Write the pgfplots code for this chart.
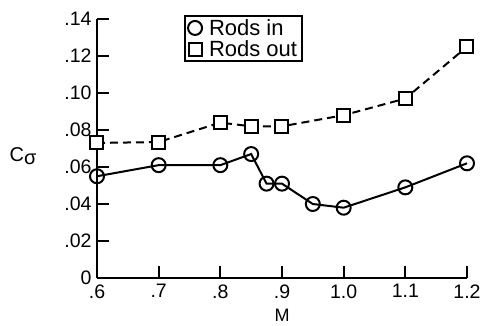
\documentclass[border=0pt]{standalone}
\usepackage{fontspec}
\setmainfont{Liberation Sans}
\usepackage{pgfplots}
\pgfplotsset{compat=1.18}
\usetikzlibrary{calc}
\begin{document}
\begin{tikzpicture}
\begin{axis}[
  scale only axis, width=370pt, height=259pt,
  xmin=0.6, xmax=1.2, ymin=0, ymax=0.14,
  axis x line*=bottom, axis y line*=left,
  axis line style={line width=2.2pt, shorten >=0pt, shorten <=0pt},
  tick align=inside, major tick length=12pt,
  tick style={line width=2.2pt, black},
  xtick={0.6,0.7,0.8,0.9,1.0,1.1,1.2},
  xticklabels={.6,.7,.8,.9,1.0,1.1,1.2},
  ytick={0,0.02,0.04,0.06,0.08,0.10,0.12,0.14},
  yticklabels={0,.02,.04,.06,.08,.10,.12,.14},
  ticklabel style={font=\fontsize{19.5}{20}\selectfont},
  xticklabel style={yshift=-3pt},
  yticklabel style={xshift=-2pt},
  /pgf/number format/assume math mode=true,
  every axis x label/.style={at={(rel axis cs:0.5,-0.145)}, anchor=center},
  every axis y label/.style={at={(rel axis cs:-0.2,0.47)}, anchor=center},
  xlabel={\fontsize{18}{20}\selectfont M},
  ylabel={\fontsize{20}{20}\selectfont C\raisebox{-3pt}{σ}},
  clip=false,
  legend style={at={(rel axis cs:0.235,1.015)}, anchor=north west, draw=black,
    line width=2.2pt, font=\fontsize{22}{23}\selectfont, inner xsep=3pt, inner ysep=1pt},
  legend cell align=left,
  legend image post style={only marks},
]
\addplot[black, line width=2pt, mark=o, mark size=7pt,
  mark options={fill=white, solid}]
  coordinates {(0.6,0.055) (0.7,0.061) (0.8,0.061) (0.85,0.067) (0.875,0.051)
  (0.9,0.051) (0.95,0.040) (1.0,0.038) (1.1,0.049) (1.2,0.062)};
\addlegendentry{\hspace{5pt}Rods in}
\addplot[black, line width=2pt, dash pattern=on 8pt off 5pt, mark=square*, mark size=6.5pt,
  mark options={fill=white, solid}]
  coordinates {(0.6,0.073) (0.7,0.0735) (0.8,0.084) (0.85,0.082) (0.9,0.082)
  (1.0,0.088) (1.1,0.097) (1.2,0.125)};
\addlegendentry{\hspace{5pt}Rods out}
\end{axis}
\pgfresetboundingbox
\path ($(current axis.south west)+(-97pt,-47pt)$) rectangle ($(current axis.south west)+(387pt,278pt)$);
\end{tikzpicture}
\end{document}
